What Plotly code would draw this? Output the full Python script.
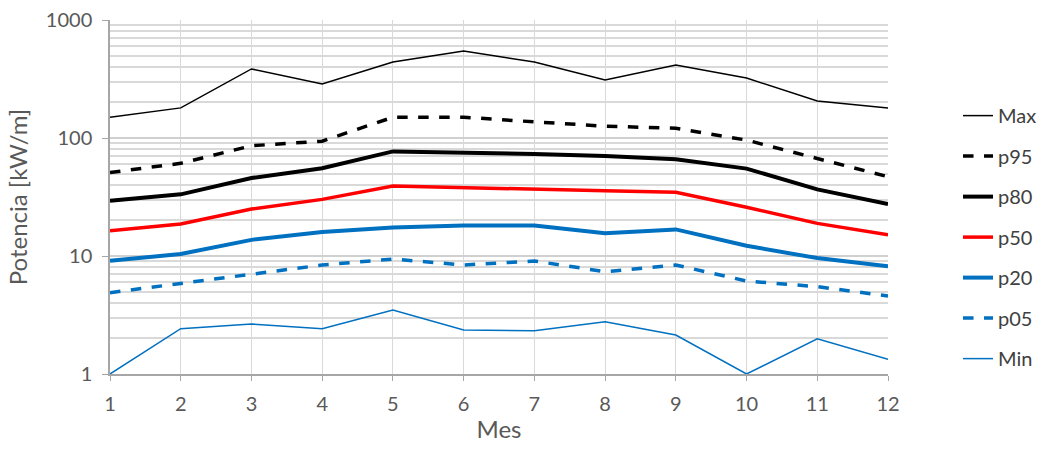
import plotly.graph_objects as go

months = list(range(1, 13))
v_max = [150, 180, 385, 287, 440, 546, 440, 310, 415, 322, 206, 180]
v_p95 = [51, 61, 86, 94, 150, 150, 137, 126, 121, 96, 67, 47]
v_p80 = [29.4, 33.3, 45.8, 55.4, 77, 75.7, 73.2, 70.4, 66, 55, 36.7, 27.6]
v_p50 = [16.4, 18.7, 25, 30.2, 39.2, 38.2, 37, 35.7, 34.7, 25.9, 18.9, 15.1]
v_p20 = [9.1, 10.4, 13.7, 16, 17.4, 18.1, 18.1, 15.6, 16.8, 12.2, 9.6, 8.2]
v_p05 = [4.89, 5.87, 7.04, 8.39, 9.43, 8.39, 9.07, 7.36, 8.39, 6.14, 5.5, 4.58]
v_min = [1.0, 2.42, 2.65, 2.42, 3.49, 2.36, 2.33, 2.77, 2.14, 1.0, 1.99, 1.33]

series = [
    ("Max", v_max, "#000000", 1.5, "solid"),
    ("p95", v_p95, "#000000", 3.5, "dash"),
    ("p80", v_p80, "#000000", 4, "solid"),
    ("p50", v_p50, "#ff0000", 3.5, "solid"),
    ("p20", v_p20, "#0070c0", 4, "solid"),
    ("p05", v_p05, "#0070c0", 3.5, "dash"),
    ("Min", v_min, "#0070c0", 1.5, "solid"),
]

fig = go.Figure()
for i, (name, vals, color, w, dash) in enumerate(series):
    fig.add_trace(go.Scatter(x=months, y=vals, name=name, mode="lines",
                             line=dict(color=color, width=w, dash=dash),
                             legendgroup=name))

minor_vals = [m * 10 ** e for e in range(0, 3) for m in range(2, 10)]
fig.update_layout(
    width=1055, height=450,
    margin=dict(l=110, r=167, t=20, b=76, autoexpand=False),
    paper_bgcolor="white", plot_bgcolor="white",
    font=dict(family="Lato, Open Sans, sans-serif", size=20, color="#595959"),
    showlegend=True,
    legend=dict(x=1.09, y=0.785, xanchor="left", yanchor="top",
                font=dict(size=20, color="#404040"), tracegroupgap=11.5,
                bgcolor="rgba(0,0,0,0)"),
    xaxis=dict(title=dict(text="Mes", standoff=7), range=[1, 12], tickmode="array",
               tickvals=months, showgrid=True, gridcolor="#d9d9d9", gridwidth=1,
               showline=True, linecolor="#a6a6a6", linewidth=1.5, ticks="outside",
               tickcolor="#a6a6a6", ticklen=5, zeroline=False, ticklabelstandoff=6,
               automargin=False),
    yaxis=dict(title=dict(text="Potencia [kW/m]", standoff=11), type="log",
               range=[0, 3], tickvals=[1, 10, 100, 1000],
               ticktext=["1", "10", "100", "1000"],
               showgrid=True, gridcolor="#d0d0d0", gridwidth=1.5,
               showline=True, linecolor="#a6a6a6", linewidth=1.5, ticks="outside",
               tickcolor="#a6a6a6", ticklen=6, zeroline=False, ticklabelstandoff=6,
               automargin=False,
               minor=dict(tickvals=minor_vals, showgrid=True, gridcolor="#d9d9d9",
                          gridwidth=1.5, ticks="")),
)
fig.write_html("out.html")
